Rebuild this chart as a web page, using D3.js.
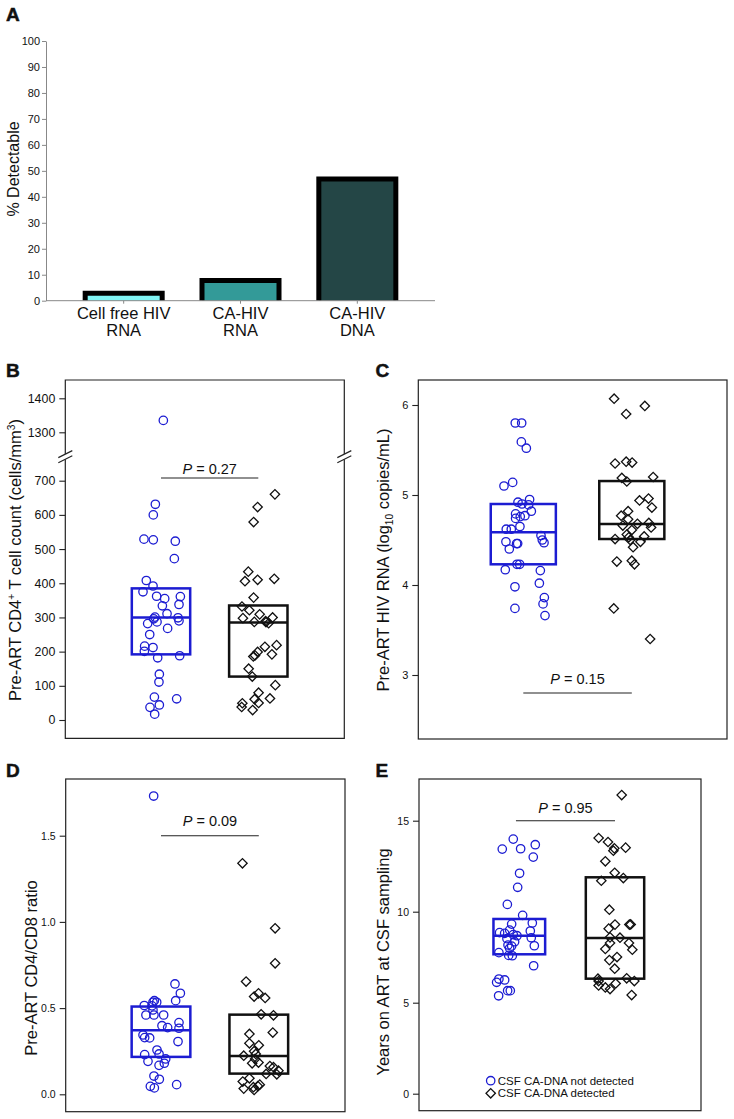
<!DOCTYPE html>
<html>
<head>
<meta charset="utf-8">
<title>CSF HIV detection</title>
<script src="https://d3js.org/d3.v7.min.js"></script>
<style>
  body { margin: 0; background: #fff; }
  text { font-family: 'Liberation Sans', Arial, sans-serif; fill: #111; }
</style>
</head>
<body>
<div id="fig"></div>
<script>
// ---- data ----
const barCategories = [["Cell free HIV", "RNA"], ["CA-HIV", "RNA"], ["CA-HIV", "DNA"]];
const barValues = [2.9, 7.8, 46.9];
const barColors = ["#80f4f4", "#339a98", "#244646"];
const pctTicks = d3.range(0, 101, 10);

// points: [value, jitter offset from group centre]
const cd4NotDet = [[1335,.024],[631,-.058],[600,-.079],[529,-.175],[527,-.079],[523,.147],[472,.137],[408,-.151],[392,-.082],[375,-.185],[362,-.045],[355,.038],[361,.199],[338,.185],[334,.014],[311,.062],[301,-.062],[296,-.075],[299,.175],[290,.185],[282,-.137],[287,-.041],[268,.068],[250,-.116],[216,-.168],[201,-.171],[212,-.082],[182,-.034],[188,.192],[134,-.017],[111,-.021],[67,-.068],[62,.161],[44,-.017],[37,-.113],[17,-.065]];
const cd4Det = [[660,.171],[623,-.007],[579,-.048],[434,-.103],[406,-.137],[410,-.007],[413,.164],[358,-.048],[332,-.168],[321,-.092],[298,-.158],[309,.014],[287,-.041],[289,.075],[283,.106],[300,.147],[286,.079],[219,.188],[214,.068],[199,-.007],[189,-.034],[186,-.051],[192,.140],[150,-.099],[127,-.062],[102,.175],[80,.003],[61,-.038],[63,.120],[50,.003],[49,-.164],[38,-.171],[29,-.058]];
const cd4BoxNotDet = [192, 300, 385];
const cd4BoxDet = [127, 285, 335];

const rnaNotDet = [[5.80,-.074],[5.80,-.015],[5.59,-.018],[5.52,.028],[5.10,-.178],[5.14,-.098],[4.95,.058],[4.92,-.049],[4.90,-.012],[4.89,.049],[4.82,.074],[4.79,-.071],[4.74,-.071],[4.76,-.028],[4.77,.015],[4.62,-.157],[4.62,-.111],[4.65,-.031],[4.55,.163],[4.48,-.16],[4.46,-.062],[4.46,-.052],[4.50,.175],[4.47,.191],[4.40,-.129],[4.23,-.058],[4.23,-.034],[4.17,-.166],[4.16,.157],[3.98,-.077],[4.02,.148],[3.86,.194],[3.79,.182],[3.74,-.077],[3.66,.2]];
const rnaDet = [[6.07,-.163],[5.99,.12],[5.90,-.052],[5.35,-.154],[5.37,-.052],[5.36,.003],[5.19,-.092],[5.15,-.046],[5.20,.197],[4.94,.071],[4.96,.154],[4.86,.185],[4.82,-.034],[4.77,-.098],[4.73,-.034],[4.66,-.083],[4.68,.052],[4.69,.157],[4.64,.178],[4.61,0],[4.56,-.046],[4.53,-.028],[4.51,-.154],[4.54,.114],[4.48,.080],[4.42,.012],[4.26,-.138],[4.27,0],[4.23,.025],[3.74,-.166],[3.40,.169],[4.50,-.015]];
const rnaBoxNotDet = [4.23, 4.585, 4.90];
const rnaBoxDet = [4.511, 4.678, 5.155];

const ratioNotDet = [[1.73,-.075],[.64,.143],[.586,.198],[.543,.150],[.515,-.171],[.534,-.082],[.543,-.068],[.534,-.044],[.513,-.092],[.46,-.154],[.46,-.072],[.46,.027],[.489,-.082],[.398,.010],[.387,.068],[.416,.184],[.383,.184],[.344,-.184],[.327,-.116],[.329,-.167],[.306,.174],[.257,-.041],[.234,-.020],[.230,-.167],[.191,-.133],[.205,.048],[.180,.034],[.168,-.020],[.106,-.072],[.087,-.017],[.046,-.109],[.037,-.068],[.056,.160]];
const ratioDet = [[1.34,-.167],[.963,.167],[.76,.167],[.654,-.13],[.586,-.003],[.567,-.048],[.559,.065],[.464,.024],[.458,.15],[.358,.143],[.35,-.096],[.296,-.096],[.284,0],[.25,-.048],[.234,-.031],[.224,-.154],[.205,-.038],[.18,-.068],[.184,-.003],[.164,.113],[.157,.15],[.137,.201],[.118,.075],[.116,.184],[.093,-.096],[.074,-.164],[.056,.01],[.048,-.01],[.033,-.154],[.025,-.048],[.041,-.055]];
const ratioBoxNotDet = [0.217, 0.371, 0.509];
const ratioBoxDet = [0.12, 0.222, 0.462];

const yearsNotDet = [[13.99,-.063],[13.44,-.178],[13.46,.014],[13.68,.167],[13.0,.146],[12.11,.003],[11.34,-.017],[10.40,-.125],[9.80,.035],[9.32,-.08],[9.38,.136],[8.85,-.206],[8.81,-.153],[8.99,-.101],[8.52,-.129],[8.74,-.063],[8.68,-.024],[8.35,-.049],[8.17,-.118],[8.11,-.08],[7.99,-.101],[8.94,.115],[8.57,.125],[8.13,.157],[7.75,-.213],[7.60,-.111],[7.58,-.073],[7.03,.15],[6.30,-.213],[6.12,-.237],[6.25,-.153],[5.66,-.122],[5.66,-.094],[5.38,-.216]];
const yearsDet = [[16.41,.07],[14.05,-.171],[13.83,-.073],[13.48,-.007],[13.35,-.017],[13.52,.111],[12.77,-.101],[12.14,-.003],[11.85,.087],[11.70,-.143],[10.11,-.059],[9.29,0],[9.07,-.066],[9.30,.164],[9.29,.150],[8.59,-.052],[8.57,.052],[8.28,-.052],[8.28,.146],[7.95,-.101],[7.91,.181],[7.51,.021],[7.34,-.059],[6.87,-.003],[6.32,-.178],[6.19,-.171],[6.34,.122],[6.19,.202],[6.06,.007],[5.95,-.171],[5.84,-.101],[5.75,-.052],[5.42,.174]];
const yearsBoxNotDet = [7.66, 8.68, 9.60];
const yearsBoxDet = [6.32, 8.55, 11.89];

const legendLabels = ["CSF CA-DNA not detected", "CSF CA-DNA detected"];

// ---- drawing ----
const BLUE = "#1c1cd2";
const svg = d3.select("#fig").append("svg").attr("width", 734).attr("height", 1119);

function letter(x, y, t) {
  svg.append("text").attr("x", x).attr("y", y).attr("font-size", 19)
    .attr("font-weight", "bold").attr("stroke", "#111").attr("stroke-width", 0.5).text(t);
}

// Panel A
letter(6, 21, "A");
const yA = d3.scaleLinear().domain([0, 100]).range([300.7, 41]);
const xA = d3.scalePoint().domain(d3.range(barValues.length)).range([46, 435]).padding(0.665);
const gA = svg.append("g");
gA.append("g").attr("transform", "translate(46,0)")
  .call(d3.axisLeft(yA).tickValues(pctTicks).tickSize(4).tickSizeOuter(0).tickPadding(2))
  .call(g => g.select(".domain").attr("stroke", "#888"))
  .call(g => g.selectAll(".tick line").attr("stroke", "#888"))
  .call(g => g.selectAll(".tick text").attr("font-size", 11).attr("font-family", null).attr("fill", "#111"));

const bw = 77;
gA.selectAll(".barfill").data(barValues).join("rect")
  .attr("x", (d, i) => xA(i) - bw / 2).attr("width", bw)
  .attr("y", d => yA(d)).attr("height", d => yA(0) - yA(d))
  .attr("fill", (d, i) => barColors[i]);
gA.selectAll(".barline").data(barValues).join("path")
  .attr("d", (d, i) => {
    const x0 = xA(i) - bw / 2, x1 = xA(i) + bw / 2;
    return `M${x0},${yA(0)}V${yA(d)}H${x1}V${yA(0)}`;
  })
  .attr("fill", "none").attr("stroke", "#000").attr("stroke-width", 5);
gA.append("line").attr("x1", 46).attr("x2", 435).attr("y1", yA(0)).attr("y2", yA(0))
  .attr("stroke", "#888");
gA.selectAll(".xt").data(barCategories).join("line")
  .attr("x1", (d, i) => xA(i)).attr("x2", (d, i) => xA(i))
  .attr("y1", yA(0)).attr("y2", yA(0) + 3).attr("stroke", "#888");
const xl = gA.selectAll(".xl").data(barCategories).join("text")
  .attr("text-anchor", "middle").attr("font-size", 16.5);
xl.each(function (d, i) {
  d3.select(this).selectAll("tspan").data(d).join("tspan")
    .attr("x", xA(i)).attr("y", (t, k) => 319 + k * 16.5).text(t => t);
});
svg.append("text").attr("transform", "translate(19,169) rotate(-90)")
  .attr("text-anchor", "middle").attr("font-size", 16).text("% Detectable");

// rotated axis title, with optional super/subscript parts
function ylabel(x, y, size, parts) {
  const t = svg.append("text").attr("transform", `translate(${x},${y}) rotate(-90)`)
    .attr("text-anchor", "middle").attr("font-size", size);
  let back = 0;
  parts.forEach(p => {
    if (typeof p === "string") {
      const s = t.append("tspan").text(p);
      if (back) s.attr("dy", back);
      back = 0;
      return;
    }
    const sh = p.sup ? -size * 0.35 : size * 0.22;
    t.append("tspan").attr("font-size", size * 0.62).attr("dy", sh).text(p.t);
    back = -sh;
  });
}

function pText(g, x, y) {
  const t = g.append("text").attr("x", x).attr("y", y).attr("text-anchor", "middle")
    .attr("font-size", 14.5);
  t.append("tspan").attr("font-style", "italic").text("P");
  return t;
}

function scatterPanel(o) {
  const g = svg.append("g");
  const [fx0, fy0, fx1, fy1] = o.frame;
  const x = d3.scaleLinear().domain([1, 2]).range(o.xr);
  const yOf = o.yOf;

  // frame
  if (o.brk) {
    const b = o.brk;
    g.append("path").attr("fill", "none").attr("stroke", "#222").attr("stroke-width", 1.2)
      .attr("d", `M${fx0},${b - 2.6}V${fy0}H${fx1}V${b - 2.6}M${fx0},${b + 2.6}V${fy1}H${fx1}V${b + 2.6}`);
    [fx0, fx1].forEach(bx => [-2.6, 2.6].forEach(dy => {
      g.append("line").attr("x1", bx - 7).attr("y1", b + dy + 3.5)
        .attr("x2", bx + 7).attr("y2", b + dy - 3.5)
        .attr("stroke", "#222").attr("stroke-width", 1.2);
    }));
  } else {
    g.append("rect").attr("x", fx0).attr("y", fy0).attr("width", fx1 - fx0).attr("height", fy1 - fy0)
      .attr("fill", "none").attr("stroke", "#222").attr("stroke-width", 1.2);
  }
  // y ticks
  o.scales.forEach(([sc, vals]) => {
    const ax = g.append("g").attr("transform", `translate(${fx0},0)`)
      .call(d3.axisLeft(sc).tickValues(vals).tickSize(6).tickPadding(4).tickFormat(o.fmt));
    ax.select(".domain").remove();
    ax.selectAll(".tick line").attr("stroke", "#222").attr("stroke-width", 1.1);
    ax.selectAll(".tick text").attr("font-size", o.tickSize).attr("font-family", null).attr("fill", "#111");
  });

  // boxes
  [[o.boxNd, BLUE, 1, o.hwNd], [o.boxD, "#111", 2, o.hwD]].forEach(([bx, col, gi, hw]) => {
    const x0 = x(gi - hw), x1 = x(gi + hw);
    g.append("rect").attr("x", x0).attr("width", x1 - x0)
      .attr("y", yOf(bx[2])).attr("height", yOf(bx[0]) - yOf(bx[2]))
      .attr("fill", "none").attr("stroke", col).attr("stroke-width", 2.5);
    g.append("line").attr("x1", x0).attr("x2", x1).attr("y1", yOf(bx[1])).attr("y2", yOf(bx[1]))
      .attr("stroke", col).attr("stroke-width", 2.5);
  });

  // points
  g.selectAll(".nd").data(o.nd).join("circle")
    .attr("cx", d => x(1 + d[1])).attr("cy", d => yOf(d[0])).attr("r", 4.2)
    .attr("fill", "none").attr("stroke", BLUE).attr("stroke-width", 1.3);
  const sq = d3.symbol().type(d3.symbolSquare).size(44);
  g.selectAll(".dd").data(o.d).join("path")
    .attr("d", sq)
    .attr("transform", d => `translate(${x(2 + d[1])},${yOf(d[0])}) rotate(45)`)
    .attr("fill", "none").attr("stroke", "#111").attr("stroke-width", 1.3);

  // p value
  const py = yOf(o.p.y);
  g.append("line").attr("x1", x(o.p.x1)).attr("x2", x(o.p.x2)).attr("y1", py).attr("y2", py)
    .attr("stroke", "#222").attr("stroke-width", 1.1);
  pText(g, (x(o.p.x1) + x(o.p.x2)) / 2, py - o.p.gap).append("tspan").text(" = " + o.p.label);
}

// Panel B
letter(6, 377, "B");
const yBlow = d3.scaleLinear().domain([0, 700]).range([720, 480.7]);
const yBup = d3.scaleLinear().domain([1300, 1400]).range([432.3, 398.3]);
scatterPanel({
  frame: [65.3, 380, 344.3, 738.3], brk: 456.7,
  xr: [161, 258.3],
  yOf: v => v > 1000 ? yBup(v) : yBlow(v),
  scales: [[yBlow, d3.range(0, 701, 100)], [yBup, [1300, 1400]]],
  fmt: d3.format("d"), tickSize: 12.4,
  nd: cd4NotDet, d: cd4Det, boxNd: cd4BoxNotDet, boxD: cd4BoxDet, hwNd: 0.3, hwD: 0.3,
  p: { y: 708, x1: 1, x2: 2, label: "0.27", gap: 3.6 }
});
ylabel(20.5, 560, 16.5, ["Pre-ART CD4", { t: "+", sup: true }, " T cell count (cells/mm", { t: "3", sup: true }, ")"]);

// Panel C
letter(375.5, 377, "C");
const yC = d3.scaleLinear().domain([3, 6]).range([675, 405]);
scatterPanel({
  frame: [418.3, 380, 727, 739],
  xr: [523.3, 631.8],
  yOf: yC, scales: [[yC, [3, 4, 5, 6]]], fmt: d3.format("d"), tickSize: 11,
  nd: rnaNotDet, d: rnaDet, boxNd: rnaBoxNotDet, boxD: rnaBoxDet, hwNd: 0.3, hwD: 0.3,
  p: { y: 2.80, x1: 1, x2: 2, label: "0.15", gap: 9.3 }
});
ylabel(389, 560, 16.5, ["Pre-ART HIV RNA (log", { t: "10", sup: false }, " copies/mL)"]);

// Panel D
letter(6, 777, "D");
const yD = d3.scaleLinear().domain([0, 1.5]).range([1094.3, 835.7]);
scatterPanel({
  frame: [65.7, 779, 345, 1111.7],
  xr: [161, 258.8],
  yOf: yD, scales: [[yD, [0, 0.5, 1, 1.5]]], fmt: d3.format(".1f"), tickSize: 10.5,
  nd: ratioNotDet, d: ratioDet, boxNd: ratioBoxNotDet, boxD: ratioBoxDet, hwNd: 0.3, hwD: 0.3,
  p: { y: 1.5, x1: 1, x2: 2, label: "0.09", gap: 9.3 }
});
ylabel(36.5, 968, 16.5, ["Pre-ART CD4/CD8 ratio"]);

// Panel E
letter(375.5, 777, "E");
const yE = d3.scaleLinear().domain([0, 15]).range([1093.7, 820.7]);
scatterPanel({
  frame: [419, 779, 701, 1110.7],
  xr: [519.3, 615],
  yOf: yE, scales: [[yE, [0, 5, 10, 15]]], fmt: d3.format("d"), tickSize: 10.5,
  nd: yearsNotDet, d: yearsDet, boxNd: yearsBoxNotDet, boxD: yearsBoxDet, hwNd: 0.27, hwD: 0.305,
  p: { y: 15, x1: 0.965, x2: 2, label: "0.95", gap: 8 }
});
ylabel(389, 962, 16.5, ["Years on ART at CSF sampling"]);

// legend
const lg = svg.append("g").attr("transform", "translate(490.7,1080.7)");
lg.append("circle").attr("r", 4.2).attr("fill", "none").attr("stroke", BLUE).attr("stroke-width", 1.3);
lg.append("path").attr("d", d3.symbol().type(d3.symbolSquare).size(44)())
  .attr("transform", "translate(0,12.6) rotate(45)")
  .attr("fill", "none").attr("stroke", "#111").attr("stroke-width", 1.3);
lg.selectAll("text").data(legendLabels).join("text")
  .attr("x", 7).attr("y", (d, i) => 4 + i * 12.6).attr("font-size", 11.5).text(d => d);
</script>
</body>
</html>
